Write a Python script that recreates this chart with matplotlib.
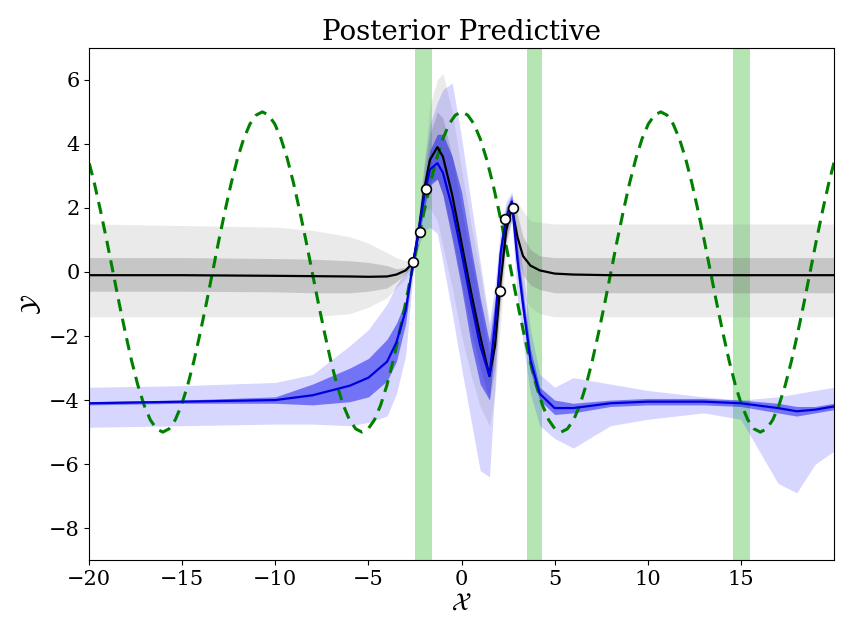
import numpy as np
import matplotlib.pyplot as plt

plt.rcParams['font.family'] = 'DejaVu Serif'
plt.rcParams['mathtext.fontset'] = 'dejavuserif'

# shared x grid for the posterior curves
x = [-20, -15, -10, -8, -6, -5, -4, -3.5, -3, -2.6, -2.3, -2, -1.7, -1.3, -1, -0.5, 0, 0.5,
     1, 1.5, 1.8, 2.1, 2.4, 2.7, 3, 3.3, 3.7, 4.2, 5, 6, 8, 10, 13, 15, 17, 18, 19, 20]

# black model
k_mean = [-0.1, -0.1, -0.12, -0.13, -0.14, -0.15, -0.14, -0.08, 0.05, 0.3, 1.3, 2.6, 3.5, 3.9,
          3.6, 2.4, 0.9, -0.6, -2.0, -3.25, -2.3, -0.3, 1.3, 2.0, 1.1, 0.5, 0.2, 0.05,
          -0.05, -0.08, -0.1, -0.1, -0.1, -0.1, -0.1, -0.1, -0.1, -0.1]
k_in_hi = [0.45, 0.45, 0.42, 0.4, 0.35, 0.3, 0.2, 0.1, 0.15, 0.35, 1.5, 3.0, 4.3, 5.0,
           4.8, 3.6, 2.0, 0.5, -1.0, -2.6, -1.6, 0.3, 1.6, 2.2, 1.8, 1.1, 0.7, 0.5,
           0.45, 0.45, 0.45, 0.45, 0.45, 0.45, 0.45, 0.45, 0.45, 0.45]
k_in_lo = [-0.6, -0.6, -0.62, -0.65, -0.65, -0.6, -0.5, -0.3, -0.05, 0.2, 1.1, 2.2, 2.8, 2.9,
           2.4, 1.2, -0.3, -1.8, -3.0, -4.0, -3.0, -0.9, 1.0, 1.8, 0.5, -0.1, -0.4, -0.55,
           -0.65, -0.65, -0.65, -0.65, -0.65, -0.65, -0.65, -0.65, -0.65, -0.65]
k_out_hi = [1.5, 1.45, 1.4, 1.3, 1.1, 0.9, 0.6, 0.45, 0.35, 0.4, 1.7, 3.4, 5.2, 6.0,
            6.2, 5.0, 3.2, 1.5, 0.0, -1.8, -0.8, 1.0, 1.9, 2.3, 2.2, 1.9, 1.6, 1.55,
            1.5, 1.5, 1.5, 1.5, 1.5, 1.5, 1.5, 1.5, 1.5, 1.5]
k_out_lo = [-1.4, -1.4, -1.4, -1.4, -1.3, -1.1, -0.8, -0.5, -0.2, 0.15, 0.9, 1.9, 2.0, 1.6,
            0.8, -0.5, -2.0, -3.2, -4.2, -4.8, -3.8, -1.6, 0.7, 1.6, 0.0, -0.7, -1.1, -1.3,
            -1.4, -1.4, -1.4, -1.4, -1.4, -1.4, -1.4, -1.4, -1.4, -1.4]

# blue model
b_mean = [-4.1, -4.05, -4.0, -3.85, -3.55, -3.3, -2.8, -2.2, -1.2, 0.3, 1.3, 2.4, 3.2, 3.4,
          3.1, 2.0, 0.6, -0.9, -2.3, -3.25, -1.6, 0.6, 1.7, 2.2, 0.4, -1.0, -2.75, -3.8,
          -4.25, -4.25, -4.1, -4.05, -4.05, -4.1, -4.25, -4.35, -4.3, -4.2]
b_in_hi = [-4.05, -4.0, -3.9, -3.5, -3.0, -2.7, -2.1, -1.6, -0.9, 0.4, 1.5, 2.8, 3.8, 4.3,
           4.3, 3.6, 2.5, 0.8, -0.8, -2.2, -0.9, 1.0, 2.0, 2.4, 0.8, -0.6, -2.4, -3.6,
           -4.0, -4.1, -4.0, -3.95, -3.95, -4.0, -4.1, -4.2, -4.2, -4.1]
b_in_lo = [-4.15, -4.1, -4.1, -4.15, -4.05, -3.9, -3.4, -2.8, -1.6, 0.2, 1.1, 2.0, 2.7, 2.9,
           2.4, 1.0, -0.5, -2.2, -3.5, -4.0, -2.3, 0.2, 1.4, 2.0, 0.0, -1.4, -3.1, -4.0,
           -4.45, -4.4, -4.2, -4.15, -4.15, -4.2, -4.4, -4.5, -4.4, -4.3]
b_out_hi = [-3.6, -3.55, -3.45, -3.2, -2.3, -1.8, -1.0, -0.4, 0.0, 0.5, 1.8, 3.4, 4.6, 5.3,
            5.7, 5.9, 4.2, 2.2, 0.3, -1.6, -0.4, 1.4, 2.2, 2.5, 1.3, 0.0, -1.8, -3.2,
            -3.6, -3.3, -3.5, -3.7, -3.9, -4.0, -3.9, -3.8, -3.7, -3.6]
b_out_lo = [-4.85, -4.8, -4.75, -4.75, -4.8, -4.7, -4.5, -3.8, -2.6, 0.0, 0.8, 1.3, 1.4, 1.2,
            0.3, -1.3, -3.0, -4.6, -6.2, -6.4, -3.5, -0.4, 1.0, 1.6, -0.8, -2.2, -3.8, -4.8,
            -5.2, -5.5, -4.8, -4.6, -4.4, -4.6, -6.6, -6.9, -6.0, -5.6]

# true function (dashed green), one quarter period sampled every 1/32 period
f_x0, f_period = -21.4, 10.7
f_quarter = [5, 4.90, 4.62, 4.16, 3.54, 2.78, 1.91, 0.98, 0]

# observations
obs_x = [-2.63, -2.25, -1.93, 2.04, 2.36, 2.79]
obs_y = [0.31, 1.25, 2.6, -0.6, 1.65, 2.0]

# shaded intervals
spans = [(-2.5, -1.6), (3.5, 4.3), (14.6, 15.5)]


def main():
    fig, ax = plt.subplots(figsize=(8.5, 6.38), dpi=100)
    fig.subplots_adjust(left=0.105, right=0.981, top=0.925, bottom=0.122)

    for a, b in spans:
        ax.axvspan(a, b, color='#b3e6b3', lw=0, zorder=0)

    ax.fill_between(x, k_out_lo, k_out_hi, color='0.55', alpha=0.18, lw=0)
    ax.fill_between(x, k_in_lo, k_in_hi, color='0.45', alpha=0.3, lw=0)
    ax.fill_between(x, b_out_lo, b_out_hi, color='#3333ff', alpha=0.2, lw=0)
    ax.fill_between(x, b_in_lo, b_in_hi, color='#2222ee', alpha=0.55, lw=0)

    # build one full period from the quarter by symmetry, then repeat 4 times
    q = list(f_quarter)
    half = q + [-v for v in q[::-1][1:]]
    period = half + half[::-1][1:]
    f_true = period[:-1] * 4 + [period[-1]]
    fx = f_x0 + (f_period / 32) * np.arange(len(f_true))
    ax.plot(fx, f_true, '--', color='green', lw=2.2, dashes=(4, 2.5))
    ax.plot(x, k_mean, color='black', lw=1.6)
    ax.plot(x, b_mean, color='#0000dd', lw=1.6)
    ax.plot(obs_x, obs_y, 'o', ms=7, mfc='white', mec='black', mew=1.2, zorder=5)

    ax.set_xlim(-20, 20)
    ax.set_ylim(-9, 7)
    ax.set_xticks([-20, -15, -10, -5, 0, 5, 10, 15])
    ax.set_yticks([-8, -6, -4, -2, 0, 2, 4, 6])
    ax.tick_params(labelsize=15)
    ax.set_xlabel(r'$\mathcal{X}$', fontsize=18, labelpad=2)
    ax.set_ylabel(r'$\mathcal{Y}$', fontsize=18, labelpad=4)
    ax.set_title('Posterior Predictive', fontsize=20)
    plt.savefig('out.png')


if __name__ == "__main__":
    main()
